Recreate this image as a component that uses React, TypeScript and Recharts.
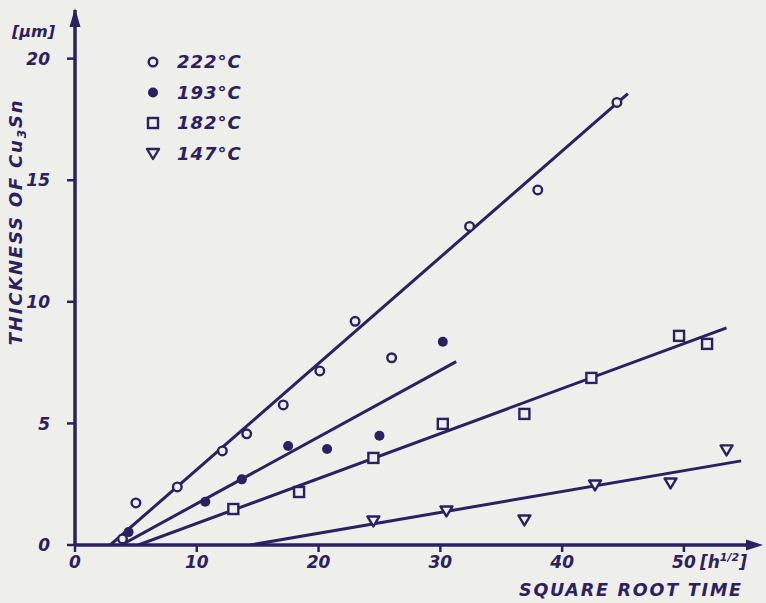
import React from "react";
import {
  ScatterChart,
  Scatter,
  XAxis,
  YAxis,
  ReferenceDot,
} from "recharts";

const x222 = [3.9, 5.0, 8.4, 12.1, 14.1, 17.1, 20.1, 23.0, 26.0, 32.4, 38.0, 44.5];
const y222 = [0.25, 1.73, 2.39, 3.87, 4.57, 5.76, 7.16, 9.2, 7.7, 13.1, 14.6, 18.2];
const x193 = [4.4, 10.7, 13.7, 17.5, 20.7, 25.0, 30.2];
const y193 = [0.53, 1.78, 2.7, 4.07, 3.95, 4.49, 8.36];
const x182 = [13.0, 18.4, 24.5, 30.2, 36.9, 42.4, 49.6, 51.9];
const y182 = [1.48, 2.18, 3.58, 4.98, 5.39, 6.87, 8.6, 8.27];
const x147 = [24.5, 30.5, 36.9, 42.7, 48.9, 53.5];
const y147 = [0.99, 1.4, 1.03, 2.47, 2.55, 3.91];

// fitted lines: [start x, start y, end x, end y]
const fit222 = [2.9, 0, 45.4, 18.56];
const fit193 = [3.8, 0, 31.3, 7.54];
const fit182 = [5.2, 0, 53.5, 8.93];
const fit147 = [14.4, 0, 54.7, 3.46];

const xTicks = [0, 10, 20, 30, 40, 50];
const yTicks = [0, 5, 10, 15, 20];
const legendLabels = ["222°C", "193°C", "182°C", "147°C"];

const INK = "#2c2060";
const BG = "#eeeeeb";
const FONT = "'DejaVu Sans', sans-serif";

const toPoints = (xs: number[], ys: number[]) => xs.map((x, i) => ({ x, y: ys[i] }));
const toLine = (f: number[]) => [
  { x: f[0], y: f[1] },
  { x: f[2], y: f[3] },
];

const OpenCircle = (p: any) => (
  <circle cx={p.cx} cy={p.cy} r={4.3} fill={BG} stroke={INK} strokeWidth={2.4} />
);
const FilledCircle = (p: any) => <circle cx={p.cx} cy={p.cy} r={5} fill={INK} />;
const OpenSquare = (p: any) => (
  <rect x={p.cx - 5} y={p.cy - 5} width={10} height={10} fill={BG} stroke={INK} strokeWidth={2.4} />
);
const OpenTriangle = (p: any) => (
  <path
    d={`M${p.cx - 6},${p.cy - 4.5} L${p.cx + 6},${p.cy - 4.5} L${p.cx},${p.cy + 5.5} Z`}
    fill={BG}
    stroke={INK}
    strokeWidth={2.4}
    strokeLinejoin="round"
  />
);
const NoDot = () => <g />;

const XTick = (p: any) => {
  const v = p.payload.value;
  return (
    <g>
      <text x={p.x} y={p.y} dy="0.71em" textAnchor="middle" fill={INK} fontSize={17} fontWeight="bold" fontStyle="italic" fontFamily={FONT}>
        {v}
      </text>
      {v === 50 && (
        <text x={p.x + 16} y={p.y} dy="0.71em" fill={INK} fontSize={17} fontWeight="bold" fontStyle="italic" fontFamily={FONT}>
          [h
          <tspan dy={-7} fontSize={11}>1/2</tspan>
          <tspan dy={7}>]</tspan>
        </text>
      )}
    </g>
  );
};

const YTick = (p: any) => (
  <text x={p.x} y={p.y} dy="0.36em" textAnchor="end" fill={INK} fontSize={17} fontWeight="bold" fontStyle="italic" fontFamily={FONT}>
    {p.payload.value}
  </text>
);

const ArrowRight = (p: any) => (
  <path d={`M${p.cx + 6},${p.cy} L${p.cx - 11},${p.cy - 5.5} L${p.cx - 11},${p.cy + 5.5} Z`} fill={INK} />
);
const ArrowUp = (p: any) => (
  <path d={`M${p.cx},${p.cy - 2} L${p.cx - 5.5},${p.cy + 17} L${p.cx + 5.5},${p.cy + 17} Z`} fill={INK} />
);

const legendShapes = [OpenCircle, FilledCircle, OpenSquare, OpenTriangle];

const App = () => {
  const textStyle: React.CSSProperties = {
    position: "absolute",
    color: INK,
    fontFamily: FONT,
    fontStyle: "italic",
    fontWeight: "bold",
    whiteSpace: "nowrap",
  };
  return (
    <div style={{ position: "absolute", left: 0, top: 0, width: 766, height: 603, background: BG }}>
      <ScatterChart width={766} height={603} margin={{ top: 10, right: 9, bottom: 0, left: 0 }}>
        <XAxis
          type="number"
          dataKey="x"
          domain={[0, 56]}
          ticks={xTicks}
          height={58}
          allowDataOverflow
          axisLine={{ stroke: INK, strokeWidth: 3.5 }}
          tickLine={{ stroke: INK, strokeWidth: 2.5 }}
          tickSize={7}
          tickMargin={4}
          tick={<XTick />}
        />
        <YAxis
          type="number"
          dataKey="y"
          domain={[0, 22]}
          ticks={yTicks}
          width={75}
          allowDataOverflow
          axisLine={{ stroke: INK, strokeWidth: 3.5 }}
          tickLine={{ stroke: INK, strokeWidth: 2.5 }}
          tickSize={8}
          tickMargin={17}
          tick={<YTick />}
        />
        <Scatter data={toLine(fit222)} line={{ stroke: INK, strokeWidth: 3 }} shape={NoDot} isAnimationActive={false} />
        <Scatter data={toLine(fit193)} line={{ stroke: INK, strokeWidth: 3 }} shape={NoDot} isAnimationActive={false} />
        <Scatter data={toLine(fit182)} line={{ stroke: INK, strokeWidth: 3 }} shape={NoDot} isAnimationActive={false} />
        <Scatter data={toLine(fit147)} line={{ stroke: INK, strokeWidth: 3 }} shape={NoDot} isAnimationActive={false} />
        <Scatter data={toPoints(x222, y222)} shape={OpenCircle} isAnimationActive={false} />
        <Scatter data={toPoints(x193, y193)} shape={FilledCircle} isAnimationActive={false} />
        <Scatter data={toPoints(x182, y182)} shape={OpenSquare} isAnimationActive={false} />
        <Scatter data={toPoints(x147, y147)} shape={OpenTriangle} isAnimationActive={false} />
        <ReferenceDot x={56} y={0} ifOverflow="visible" shape={ArrowRight} />
        <ReferenceDot x={0} y={22} ifOverflow="visible" shape={ArrowUp} />
      </ScatterChart>

      {/* legend */}
      <svg style={{ position: "absolute", left: 140, top: 50 }} width={30} height={120}>
        {legendShapes.map((S, i) => (
          <S key={i} cx={13} cy={12 + i * 30.5} />
        ))}
      </svg>
      {legendLabels.map((t, i) => (
        <div key={t} style={{ ...textStyle, left: 177, top: 50 + i * 30.5, fontSize: 18, lineHeight: "24px", letterSpacing: 1 }}>
          {t}
        </div>
      ))}

      <div style={{ ...textStyle, left: 12, top: 20, fontSize: 16, lineHeight: "24px" }}>[μm]</div>
      <div
        style={{
          ...textStyle,
          left: 19,
          top: 222,
          fontSize: 18,
          lineHeight: "22px",
          letterSpacing: 1.8,
          transform: "translate(-50%, -50%) rotate(-90deg)",
        }}
      >
        THICKNESS OF Cu<sub style={{ fontSize: 12 }}>3</sub>Sn
      </div>
      <div style={{ ...textStyle, left: 519, top: 578, fontSize: 17.5, lineHeight: "24px", letterSpacing: 1.8 }}>
        SQUARE ROOT TIME
      </div>
    </div>
  );
};

export default App;
